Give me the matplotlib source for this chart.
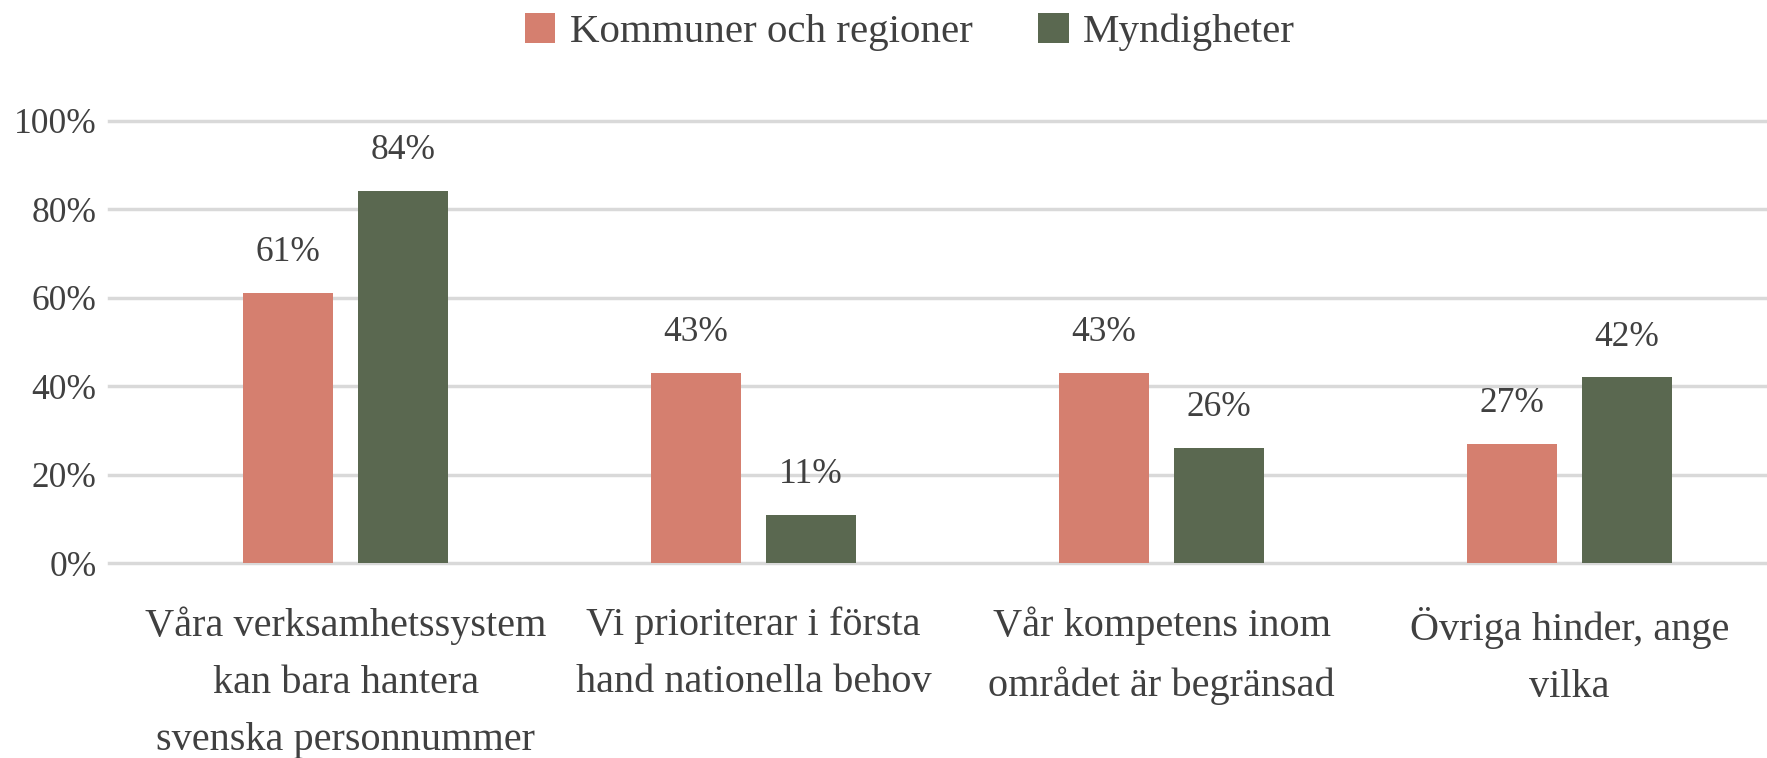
import numpy as np
import matplotlib.pyplot as plt

categories = ["Våra verksamhetssystem\nkan bara hantera\nsvenska personnummer",
              "Vi prioriterar i första\nhand nationella behov",
              "Vår kompetens inom\nområdet är begränsad",
              "Övriga hinder, ange\nvilka"]
kommuner = [61, 43, 43, 27]
myndigheter = [84, 11, 26, 42]
series_names = ["Kommuner och regioner", "Myndigheter"]
yticks = [0, 20, 40, 60, 80, 100]

orange = "#D57F6F"
green = "#5A6850"
text_col = "#404040"

plt.rcParams['font.family'] = ['Liberation Serif', 'DejaVu Serif']

fig = plt.figure(figsize=(17.67, 7.58), dpi=100)
ax = fig.add_axes([0.0617, 0.2566, 0.938, 0.5844])

x = np.arange(len(categories))
w = 0.221
off = 0.141
b1 = ax.bar(x - off, kommuner, w, color=orange, label=series_names[0], zorder=3)
b2 = ax.bar(x + off, myndigheter, w, color=green, label=series_names[1], zorder=3)

for bars, vals in [(b1, kommuner), (b2, myndigheter)]:
    for r, v in zip(bars, vals):
        ax.annotate(f"{v}%", (r.get_x() + r.get_width() / 2, v),
                    xytext=(0, 23), textcoords="offset points",
                    ha="center", va="baseline", fontsize=25.5, color=text_col)

ax.set_xlim(-0.58, 3.483)
ax.set_ylim(0, 100)
ax.set_yticks(yticks)
ax.set_yticklabels([f"{t}%" for t in yticks], fontsize=25.5, color=text_col)
ax.set_xticks(x)
ax.set_xticklabels(categories, fontsize=29, color=text_col, linespacing=1.72)
ax.tick_params(length=0, pad=9)
ax.tick_params(axis='x', pad=31)
ax.grid(axis='y', color="#D9D9D9", linewidth=2.5, zorder=0, clip_on=False)
for s in ax.spines.values():
    s.set_visible(False)

fig.legend(handles=[b1, b2], loc="center", bbox_to_anchor=(0.515, 0.958), ncol=2,
           frameon=False, fontsize=29.5, labelcolor=text_col, handlelength=0.75,
           handleheight=0.75, handletextpad=0.35, columnspacing=1.6)

fig.savefig("out.png", dpi=100, facecolor="white")
